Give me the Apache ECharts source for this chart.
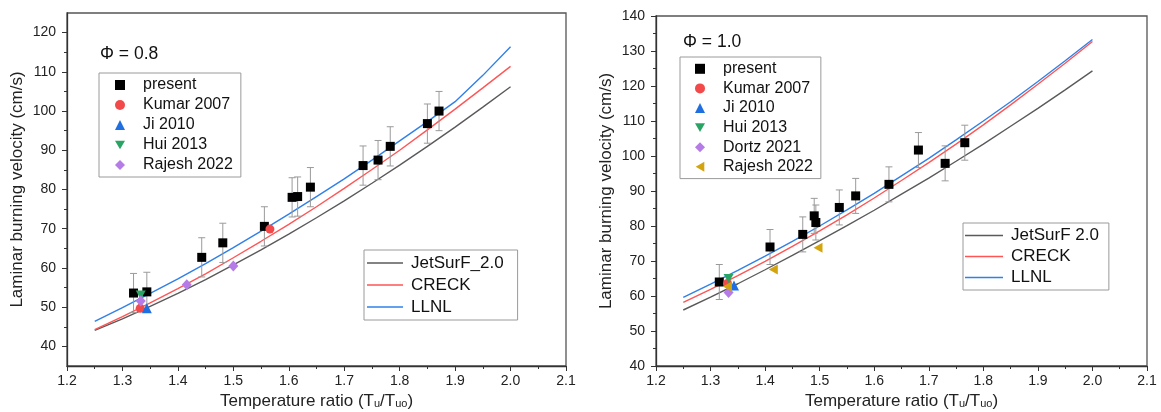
<!DOCTYPE html>
<html>
<head>
<meta charset="utf-8">
<script src="https://cdn.jsdelivr.net/npm/echarts@6/dist/echarts.min.js"></script>
<style>
  html, body { margin: 0; padding: 0; background: #fff; }
  #chart { width: 1161px; height: 412px; }
</style>
</head>
<body>
<div id="chart"></div>
<script>
const FONT = '"Liberation Sans", Arial, sans-serif';

// model curves, both panels share one x grid
const modelRatio = [1.25, 1.30, 1.35, 1.40, 1.45, 1.50, 1.55, 1.60, 1.65, 1.70, 1.75, 1.80, 1.85, 1.90, 1.95, 2.00];

// phi = 0.8
const jetLeft   = [44.1, 47.0, 50.2, 53.5, 57.0, 60.8, 64.6, 68.6, 72.8, 77.1, 81.6, 86.2, 91.0, 95.9, 101.0, 106.2];
const creckLeft = [44.3, 47.6, 51.1, 54.7, 58.5, 62.6, 66.8, 71.1, 75.6, 80.3, 85.1, 90.0, 95.2, 100.5, 105.9, 111.4];
const llnlLeft  = [46.4, 49.9, 53.5, 57.2, 61.1, 65.2, 69.4, 73.7, 78.2, 82.7, 87.5, 92.4, 97.3, 102.4, 109.1, 116.4];

// phi = 1.0
const jetRight   = [56.0, 59.7, 63.5, 67.5, 71.6, 75.8, 80.1, 84.5, 89.1, 93.7, 98.5, 103.4, 108.5, 113.6, 118.9, 124.3];
const creckRight = [58.2, 61.9, 65.8, 69.9, 74.2, 78.6, 83.2, 88.0, 93.0, 98.1, 103.4, 108.9, 114.6, 120.5, 126.5, 132.7];
const llnlRight  = [59.6, 63.4, 67.3, 71.4, 75.6, 80.0, 84.6, 89.3, 94.3, 99.3, 104.6, 110.0, 115.5, 121.3, 127.2, 133.3];

// present measurements
const presentLeftX   = [1.320, 1.344, 1.443, 1.481, 1.556, 1.606, 1.616, 1.639, 1.734, 1.761, 1.783, 1.850, 1.871];
const presentLeftY   = [53.6, 53.9, 62.7, 66.4, 70.6, 78.0, 78.2, 80.6, 86.1, 87.5, 91.0, 96.8, 100.0];
const presentLeftErr = [5, 5, 5, 5, 5, 5, 5, 5, 5, 5, 5, 5, 5];

const presentRightX   = [1.316, 1.409, 1.469, 1.490, 1.493, 1.536, 1.566, 1.627, 1.681, 1.730, 1.766];
const presentRightY   = [64.0, 74.0, 77.6, 82.9, 81.0, 85.3, 88.6, 91.9, 101.7, 97.9, 103.8];
const presentRightErr = [5, 5, 5, 5, 5, 5, 5, 5, 5, 5, 5];

// literature data [ratio, velocity]
const kumarLeft  = [[1.332, 49.7], [1.566, 69.9]];
const jiLeft     = [[1.344, 49.7]];
const huiLeft    = [[1.333, 53.1]];
const rajeshLeft = [[1.333, 51.6], [1.416, 55.7], [1.500, 60.5]];

const kumarRight  = [[1.331, 63.6]];
const jiRight     = [[1.343, 63.0]];
const huiRight    = [[1.333, 65.0]];
const dortzRight  = [[1.333, 61.0]];
const rajeshRight = [[1.331, 62.7], [1.415, 67.6], [1.497, 73.8]];

const leftMajor = [40, 50, 60, 70, 80, 90, 100, 110, 120];
const leftMinor = [45, 55, 65, 75, 85, 95, 105, 115];

const DOWN_TRI = 'path://M0,0L10,0L5,8.66Z';
const LEFT_TRI = 'path://M8.66,0L8.66,10L0,5Z';

const C = {
    present: '#000000',
    kumar: '#f24a4a',
    ji: '#1f6fe0',
    hui: '#2aa464',
    purple: '#b57be6',
    gold: '#d4a40f',
    jet: '#5a5a5a',
    creck: '#ff5555',
    llnl: '#2f80e8'
};

const zip = (xs, ys) => xs.map((x, i) => [x, ys[i]]);

function modelSeries(name, values, color, xi, yi) {
    return {
        name, type: 'line', xAxisIndex: xi, yAxisIndex: yi,
        data: zip(modelRatio, values),
        symbol: 'none', smooth: false, z: 2,
        lineStyle: { color, width: 1.4 },
        itemStyle: { color }
    };
}

function scatterSeries(name, data, symbol, size, color, xi, yi) {
    return {
        name, type: 'scatter', xAxisIndex: xi, yAxisIndex: yi,
        data, symbol, symbolSize: size, z: 4,
        itemStyle: { color, opacity: 1 }
    };
}

function errorSeries(xs, ys, errs, xi, yi) {
    return {
        type: 'custom', xAxisIndex: xi, yAxisIndex: yi, silent: true, z: 3,
        data: xs.map((x, i) => [x, ys[i] - errs[i], ys[i] + errs[i]]),
        encode: { x: 0, y: [1, 2] },
        renderItem: (params, api) => {
            const lo = api.coord([api.value(0), api.value(1)]);
            const hi = api.coord([api.value(0), api.value(2)]);
            const cap = 3.5;
            const style = { stroke: '#9a9a9a', lineWidth: 1 };
            return {
                type: 'group',
                children: [
                    { type: 'line', shape: { x1: lo[0], y1: lo[1], x2: hi[0], y2: hi[1] }, style },
                    { type: 'line', shape: { x1: lo[0] - cap, y1: lo[1], x2: lo[0] + cap, y2: lo[1] }, style },
                    { type: 'line', shape: { x1: hi[0] - cap, y1: hi[1], x2: hi[0] + cap, y2: hi[1] }, style }
                ]
            };
        }
    };
}

const axisLine = { show: true, lineStyle: { color: '#333', width: 1.3 } };
const labelStyle = { color: '#222', fontSize: 14, fontFamily: FONT };
const nameStyle = {
    color: '#222', fontSize: 17, fontFamily: FONT,
    rich: { s: { fontSize: 11, fontFamily: FONT, color: '#222', verticalAlign: 'bottom', lineHeight: 10 } }
};

function xAxisFor(gridIndex) {
    return {
        type: 'value', gridIndex, min: 1.2, max: 2.1, interval: 0.1,
        axisLine, splitLine: { show: false },
        axisTick: { length: 5, lineStyle: { color: '#333' } },
        minorTick: { show: true, splitNumber: 2, length: 3, lineStyle: { color: '#333' } },
        axisLabel: { ...labelStyle, margin: 8, formatter: v => v.toFixed(1) },
        name: 'Temperature ratio (T{s|u}/T{s|uo})',
        nameLocation: 'middle', nameGap: 23, nameTextStyle: nameStyle
    };
}

const yName = {
    name: 'Laminar burning velocity (cm/s)',
    nameLocation: 'middle', nameRotate: 90, nameGap: 41,
    nameTextStyle: { color: '#222', fontSize: 17, fontFamily: FONT }
};

function symbolLegend(left, top, lineHeight, items) {
    return {
        left, top, orient: 'vertical', selectedMode: false,
        itemWidth: 10, itemHeight: 10, itemGap: 0,
        padding: [2, 8, 2, 16],
        borderColor: '#9a9a9a', borderWidth: 1, backgroundColor: '#fff',
        textStyle: { fontSize: 16, fontFamily: FONT, color: '#111', lineHeight, padding: [0, 0, 0, 13] },
        data: items.map(([name, icon, color]) => ({ name, icon, itemStyle: { color } }))
    };
}

function lineLegend(left, top, lineHeight, width, items) {
    return {
        left, top, orient: 'vertical', selectedMode: false,
        itemWidth: width, itemHeight: 1.5, itemGap: 0,
        padding: [2, 14, 2, 3],
        borderColor: '#9a9a9a', borderWidth: 1, backgroundColor: '#fff',
        textStyle: { fontSize: 17, fontFamily: FONT, color: '#111', lineHeight, padding: [0, 0, 0, 3] },
        data: items.map(([name, color]) => ({
            name, icon: 'rect',
            itemStyle: { color, borderWidth: 0 },
            lineStyle: { width: 0 }
        }))
    };
}

const chart = echarts.init(document.getElementById('chart'), null, { renderer: 'canvas' });

const option = {
    animation: false,
    backgroundColor: '#fff',
    grid: [
        { left: 67, top: 13, width: 499, height: 353, show: true, borderColor: '#555', borderWidth: 1.3, outerBoundsMode: 'none' },
        { left: 656, top: 16, width: 491, height: 350, show: true, borderColor: '#555', borderWidth: 1.3, outerBoundsMode: 'none' }
    ],
    xAxis: [xAxisFor(0), xAxisFor(1)],
    yAxis: [
        {
            type: 'value', gridIndex: 0, min: 35, max: 125, position: 'left',
            axisLine, splitLine: { show: false },
            axisTick: { length: 5, customValues: leftMajor, lineStyle: { color: '#333' } },
            axisLabel: { ...labelStyle, margin: 11, customValues: leftMajor },
            ...yName
        },
        {
            type: 'value', gridIndex: 0, min: 35, max: 125, position: 'left',
            axisLine: { show: false }, splitLine: { show: false },
            axisTick: { length: 3, customValues: leftMinor, lineStyle: { color: '#333' } },
            axisLabel: { show: false }
        },
        {
            type: 'value', gridIndex: 1, min: 40, max: 140, interval: 10, position: 'left',
            axisLine, splitLine: { show: false },
            axisTick: { length: 5, lineStyle: { color: '#333' } },
            minorTick: { show: true, splitNumber: 2, length: 3, lineStyle: { color: '#333' } },
            axisLabel: { ...labelStyle, margin: 11 },
            ...yName
        }
    ],
    legend: [
        symbolLegend(99, 73, 20, [
            ['present', 'rect', C.present],
            ['Kumar 2007', 'circle', C.kumar],
            ['Ji 2010', 'triangle', C.ji],
            ['Hui 2013', DOWN_TRI, C.hui],
            ['Rajesh 2022', 'diamond', C.purple]
        ]),
        lineLegend(364, 250, 22, 36, [['JetSurF_2.0', C.jet], ['CRECK', C.creck], ['LLNL', C.llnl]]),
        {
            ...symbolLegend(680, 57, 19.6, [
                ['present', 'rect', C.present],
                ['Kumar 2007', 'circle', C.kumar],
                ['Ji 2010', 'triangle', C.ji],
                ['Hui 2013', DOWN_TRI, C.hui],
                ['Dortz 2021', 'diamond', C.purple],
                ['Rajesh 2022', LEFT_TRI, C.gold]
            ]),
            padding: [2, 8, 2, 15]
        },
        {
            ...lineLegend(963, 223, 21, 38, [['JetSurF 2.0', C.jet], ['CRECK', C.creck], ['LLNL', C.llnl]]),
            padding: [2, 10, 2, 2]
        }
    ],
    graphic: [
        { type: 'text', left: 100, top: 45, style: { text: 'Φ = 0.8', font: '17.5px ' + FONT, fill: '#111' } },
        { type: 'text', left: 683, top: 33, style: { text: 'Φ = 1.0', font: '17.5px ' + FONT, fill: '#111' } }
    ],
    series: [
        modelSeries('JetSurF_2.0', jetLeft, C.jet, 0, 0),
        modelSeries('CRECK', creckLeft, C.creck, 0, 0),
        modelSeries('LLNL', llnlLeft, C.llnl, 0, 0),
        errorSeries(presentLeftX, presentLeftY, presentLeftErr, 0, 0),
        scatterSeries('present', zip(presentLeftX, presentLeftY), 'rect', 9, C.present, 0, 0),
        scatterSeries('Kumar 2007', kumarLeft, 'circle', 9, C.kumar, 0, 0),
        scatterSeries('Ji 2010', jiLeft, 'triangle', 10, C.ji, 0, 0),
        scatterSeries('Hui 2013', huiLeft, DOWN_TRI, [10, 9], C.hui, 0, 0),
        scatterSeries('Rajesh 2022', rajeshLeft, 'diamond', [10, 11], C.purple, 0, 0),

        modelSeries('JetSurF 2.0', jetRight, C.jet, 1, 2),
        modelSeries('CRECK', creckRight, C.creck, 1, 2),
        modelSeries('LLNL', llnlRight, C.llnl, 1, 2),
        errorSeries(presentRightX, presentRightY, presentRightErr, 1, 2),
        scatterSeries('present', zip(presentRightX, presentRightY), 'rect', 9, C.present, 1, 2),
        scatterSeries('Kumar 2007', kumarRight, 'circle', 9, C.kumar, 1, 2),
        scatterSeries('Ji 2010', jiRight, 'triangle', 10, C.ji, 1, 2),
        scatterSeries('Hui 2013', huiRight, DOWN_TRI, [10, 9], C.hui, 1, 2),
        scatterSeries('Dortz 2021', dortzRight, 'diamond', [10, 11], C.purple, 1, 2),
        scatterSeries('Rajesh 2022 ', rajeshRight, LEFT_TRI, [9, 10], C.gold, 1, 2)
    ]
};

chart.setOption(option);
window.addEventListener('resize', () => chart.resize());
</script>
</body>
</html>
